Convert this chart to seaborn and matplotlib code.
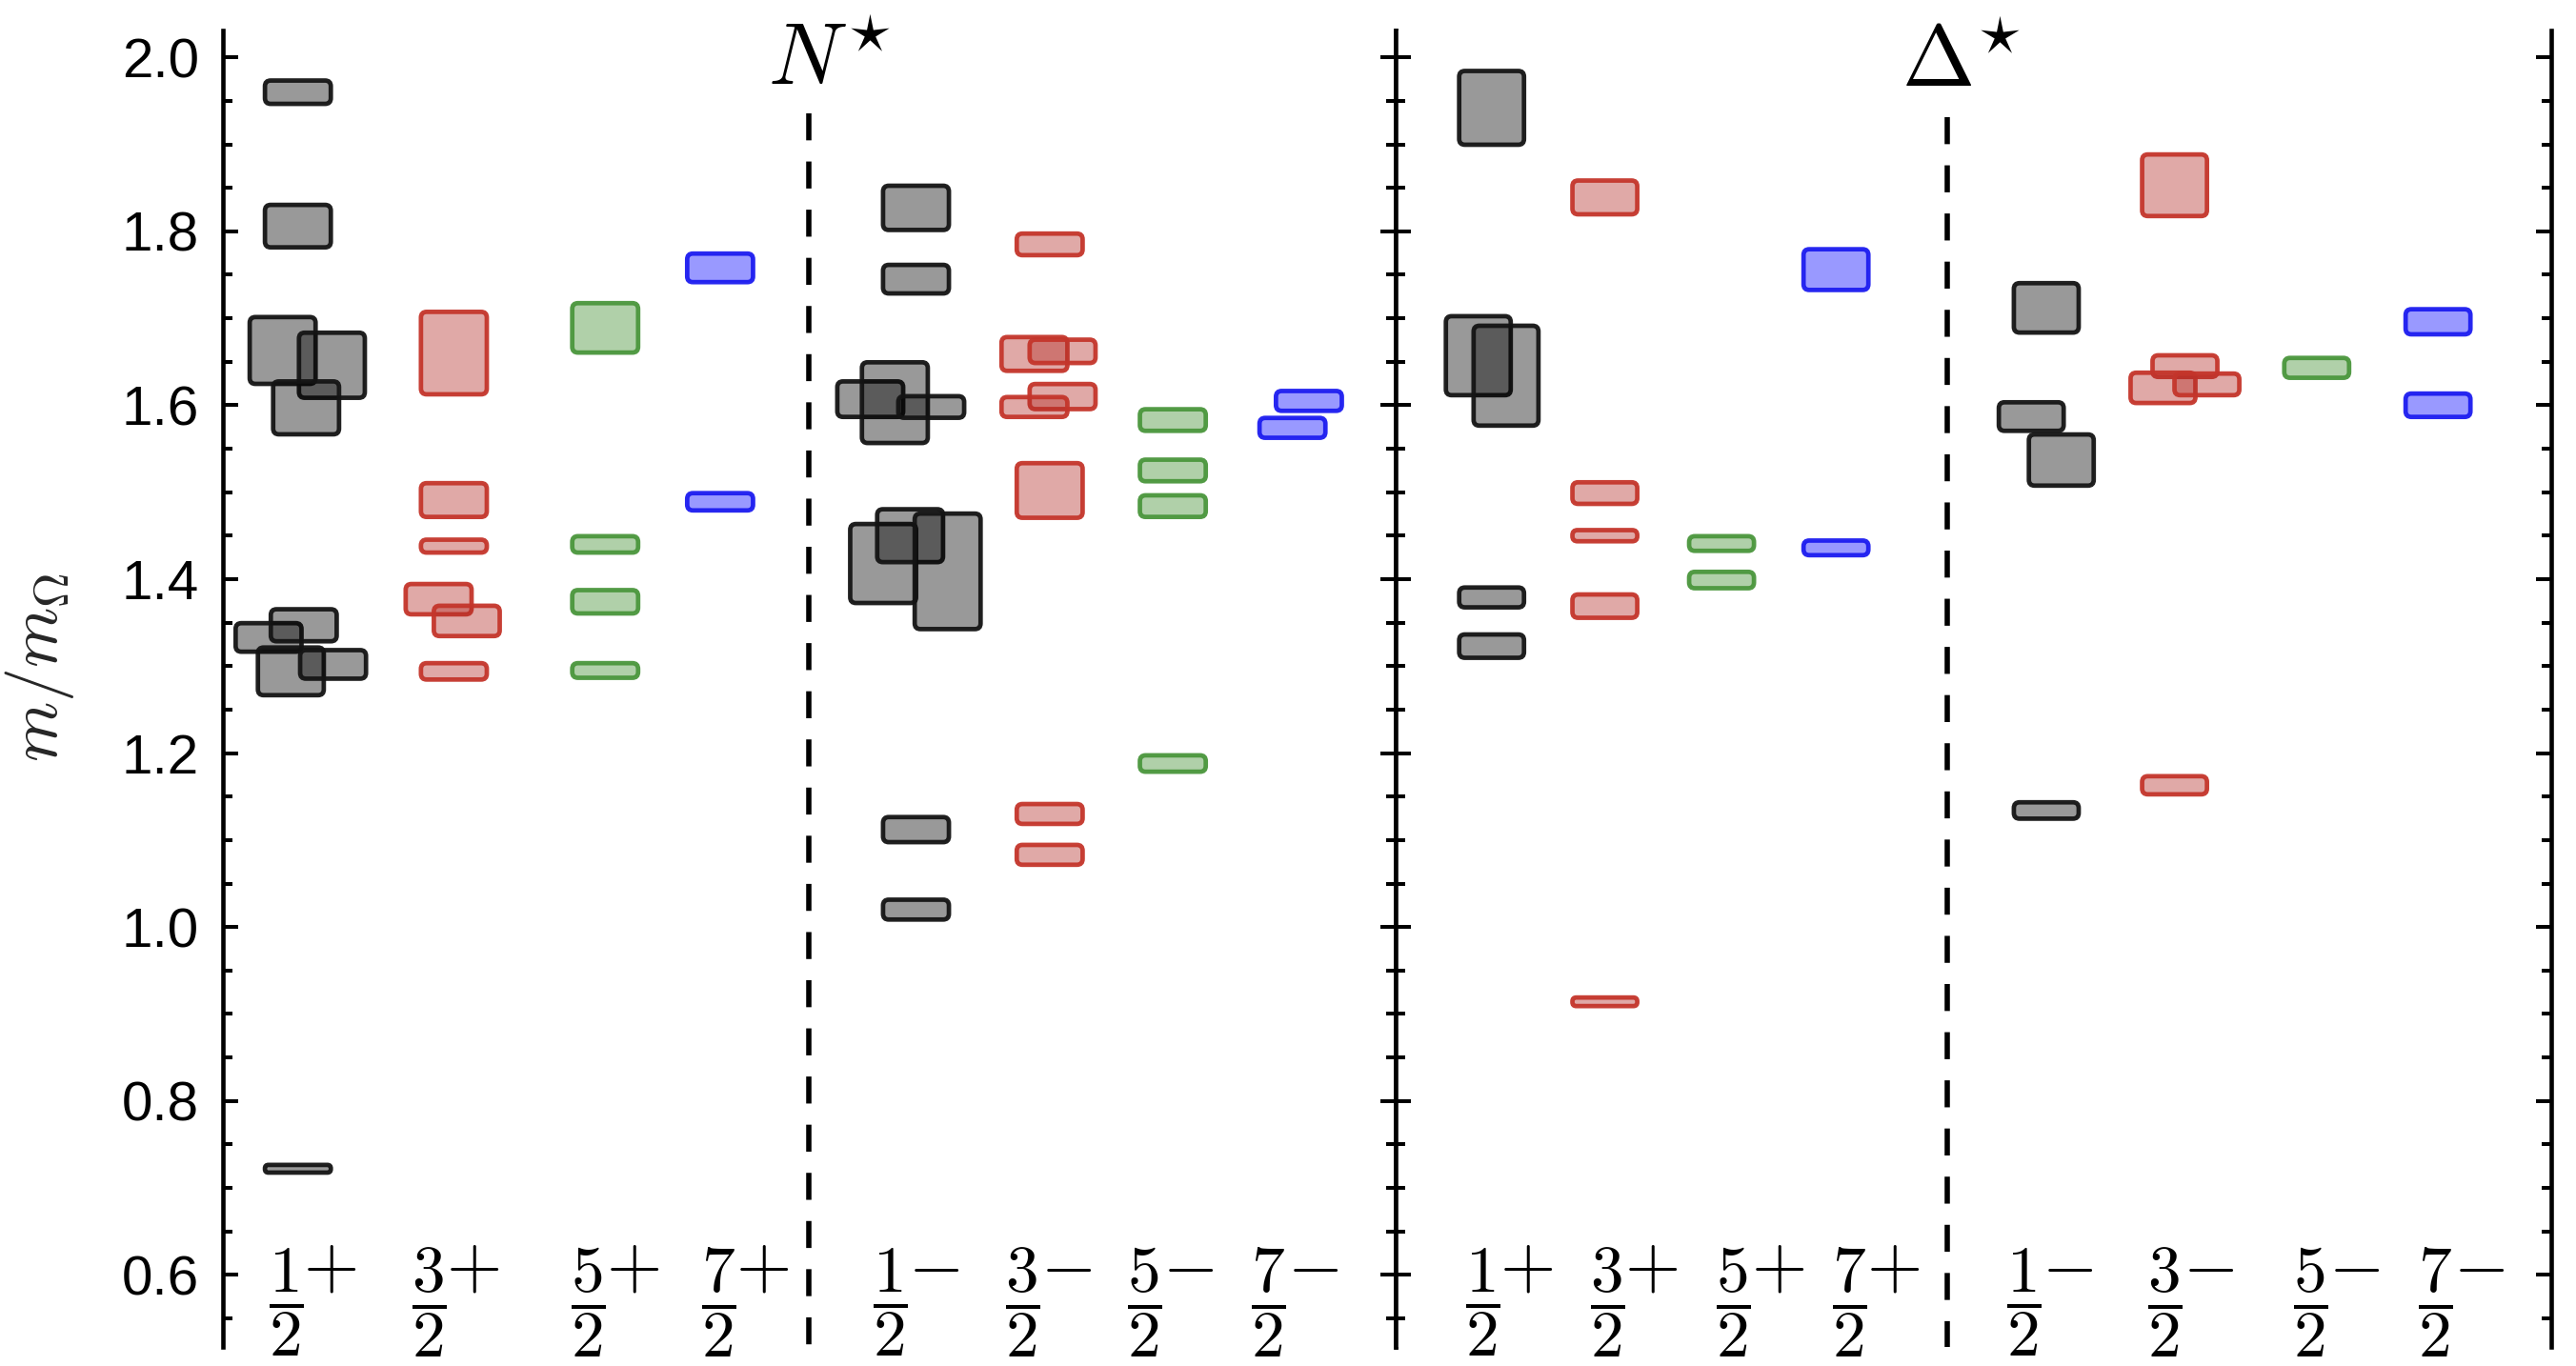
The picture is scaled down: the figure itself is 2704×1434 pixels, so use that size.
import numpy as np
import pandas as pd
import matplotlib
matplotlib.use('Agg')
import matplotlib.pyplot as plt
from matplotlib.patches import FancyBboxPatch
from matplotlib.ticker import MultipleLocator
import seaborn as sns

# ---- channels J^P (same order in both panels) ----
jp_num = ['1', '3', '5', '7', '1', '3', '5', '7']
jp_parity = ['+', '+', '+', '+', '-', '-', '-', '-']
edge_colors = ['#141414', '#c4352b', '#4a963c', '#1c1cf0'] * 2
fill_colors = ['#000000', '#b32a24', '#3a8a2a', '#0000ff'] * 2

# column positions (fraction of panel width)
nstar_col_x = [0.064, 0.197, 0.326, 0.424, 0.591, 0.705, 0.810, 0.919]
delta_col_x = [0.083, 0.181, 0.282, 0.381, 0.563, 0.674, 0.797, 0.902]
nstar_label_x = [0.073, 0.195, 0.331, 0.442, 0.588, 0.701, 0.805, 0.911]
delta_label_x = [0.095, 0.203, 0.312, 0.412, 0.563, 0.685, 0.811, 0.919]

# ---- N* states: channel, m/m_Omega, half height, sideways shift ----
nstar_jp = [0, 0, 0, 0, 0, 0, 0, 0, 0, 0,
            1, 1, 1, 1, 1, 1,
            2, 2, 2, 2,
            3, 3,
            4, 4, 4, 4, 4, 4, 4, 4, 4, 4,
            5, 5, 5, 5, 5, 5, 5, 5,
            6, 6, 6, 6,
            7, 7]
nstar_mass = [1.960, 1.806, 1.663, 1.646, 1.597, 1.333, 1.347, 1.294, 1.302, 0.722,
              1.660, 1.491, 1.438, 1.377, 1.352, 1.294,
              1.689, 1.440, 1.374, 1.295,
              1.758, 1.489,
              1.827, 1.745, 1.607, 1.603, 1.598, 1.418, 1.450, 1.409, 1.112, 1.020,
              1.785, 1.659, 1.662, 1.610, 1.598, 1.502, 1.130, 1.083,
              1.583, 1.525, 1.484, 1.188,
              1.605, 1.574]
nstar_err = [0.016, 0.027, 0.041, 0.040, 0.033, 0.019, 0.021, 0.030, 0.019, 0.007,
             0.050, 0.022, 0.010, 0.020, 0.020, 0.012,
             0.031, 0.012, 0.016, 0.011,
             0.019, 0.0125,
             0.028, 0.019, 0.023, 0.049, 0.015, 0.048, 0.033, 0.069, 0.017, 0.014,
             0.015, 0.022, 0.016, 0.017, 0.014, 0.034, 0.014, 0.014,
             0.015, 0.015, 0.015, 0.012,
             0.014, 0.014]
nstar_shift = [0, 0, -0.013, 0.029, 0.007, -0.025, 0.005, -0.006, 0.030, 0,
               0, 0, 0, -0.013, 0.011, 0,
               0, 0, 0, 0,
               0, 0,
               0, 0, -0.039, -0.018, 0.013, -0.028, -0.005, 0.027, 0, 0,
               0, -0.013, 0.011, 0.011, -0.013, 0, 0, 0,
               0, 0, 0, 0,
               0.007, -0.007]

# ---- Delta* states ----
delta_jp = [0, 0, 0, 0, 0,
            1, 1, 1, 1, 1,
            2, 2,
            3, 3,
            4, 4, 4, 4,
            5, 5, 5, 5, 5,
            6,
            7, 7]
delta_mass = [1.942, 1.657, 1.634, 1.379, 1.323,
              1.839, 1.499, 1.450, 1.369, 0.914,
              1.441, 1.399,
              1.756, 1.436,
              1.712, 1.587, 1.537, 1.134,
              1.853, 1.645, 1.620, 1.624, 1.163,
              1.643,
              1.696, 1.600]
delta_err = [0.045, 0.048, 0.060, 0.014, 0.016,
             0.022, 0.015, 0.009, 0.016, 0.0075,
             0.011, 0.012,
             0.026, 0.011,
             0.031, 0.019, 0.032, 0.012,
             0.038, 0.015, 0.020, 0.015, 0.013,
             0.014,
             0.017, 0.016]
delta_shift = [0, -0.0115, 0.0125, 0, 0,
               0, 0, 0, 0, 0,
               0, 0,
               0, 0,
               0, -0.013, 0.013, 0,
               0, 0.009, -0.010, 0.028, 0,
               0,
               0, 0]

nstar_df = pd.DataFrame({'jp': nstar_jp, 'mass': nstar_mass, 'err': nstar_err, 'shift': nstar_shift})
delta_df = pd.DataFrame({'jp': delta_jp, 'mass': delta_mass, 'err': delta_err, 'shift': delta_shift})

# ---- style ----
sns.set_theme(style='ticks')
plt.rcParams['font.family'] = ['Liberation Sans', 'DejaVu Sans']
plt.rcParams['mathtext.fontset'] = 'cm'

fig = plt.figure(figsize=(13.52, 7.17), dpi=200)
ax_n = fig.add_axes([0.0865, 0.0139, 0.4553, 0.9638])
ax_d = fig.add_axes([0.5418, 0.0139, 0.4486, 0.9638])

ylo, yhi = 0.517, 2.031
box_w = 0.060
edge_lw = 1.7

panels = [
    (ax_n, nstar_df, nstar_col_x, nstar_label_x, 0.500, 1.936, 0.517, 1.968, r'$N^{\star}$'),
    (ax_d, delta_df, delta_col_x, delta_label_x, 0.477, 1.931, 0.489, 1.966, r'$\Delta^{\star}$'),
]

for ax, df, col_x, lab_x, dash_x, dash_top, title_x, title_y, title in panels:
    ax.set_xlim(0, 1)
    ax.set_ylim(ylo, yhi)
    ax.set_facecolor('white')
    for s in ['top', 'bottom']:
        ax.spines[s].set_visible(False)
    for s in ['left', 'right']:
        ax.spines[s].set_linewidth(1.65)
        ax.spines[s].set_color('black')
    ax.yaxis.set_major_locator(MultipleLocator(0.2))
    ax.yaxis.set_minor_locator(MultipleLocator(0.05))
    ax.tick_params(axis='y', which='both', direction='in', left=True, right=True,
                   width=1.45, color='black', labelcolor='black')
    ax.tick_params(axis='y', which='major', length=5.8, labelsize=21, pad=9.0)
    ax.tick_params(axis='y', which='minor', length=3.5)
    ax.set_xticks([])

    # pixel scale of the data units, used for the rounded corners
    bb = ax.get_window_extent()
    px_x = bb.width / 1.0
    px_y = bb.height / (yhi - ylo)
    aspect = px_x / px_y
    stroke_px = edge_lw * 200 / 72
    r_x = 6.0 / px_x

    for row in df.itertuples():
        cx = col_x[row.jp] + row.shift
        w = box_w - stroke_px / px_x
        h = max(2 * row.err - stroke_px / px_y, 0.002)
        r = min(r_x, 0.45 * w, 0.45 * h / aspect)
        patch = FancyBboxPatch((cx - w / 2, row.mass - h / 2), w, h,
                               boxstyle=f'round,pad=0,rounding_size={r}',
                               mutation_aspect=aspect,
                               facecolor=matplotlib.colors.to_rgba(fill_colors[row.jp], 0.4),
                               edgecolor=matplotlib.colors.to_rgba(edge_colors[row.jp], 0.95),
                               linewidth=edge_lw, zorder=3)
        ax.add_patch(patch)

    # J^P labels: fraction plus raised parity sign
    for lx, num, par in zip(lab_x, jp_num, jp_parity):
        ax.annotate(r'$\dfrac{%s}{2}$' % num, (lx, 0.568), xytext=(-8.6, 0),
                    textcoords='offset points', ha='center', va='center',
                    fontsize=25, color='black')
        ax.annotate(r'$%s$' % par, (lx, 0.608), xytext=(8.0, 0),
                    textcoords='offset points', ha='center', va='center',
                    fontsize=27, color='black')

    ax.plot([dash_x, dash_x], [dash_top, ylo], color='black', lw=2.0,
            linestyle=(0, (5.1, 4.0)), solid_capstyle='butt', zorder=2)
    ax.text(title_x, title_y, title, ha='center', va='baseline', fontsize=33,
            color='black', clip_on=False)

ax_d.tick_params(axis='y', labelleft=False)

fig.text(42 / 2704, 1 - 700 / 1434, r'$m/m_{\Omega}$', rotation=90,
         ha='center', va='center', fontsize=26)

plt.savefig('out.png', dpi=200)
